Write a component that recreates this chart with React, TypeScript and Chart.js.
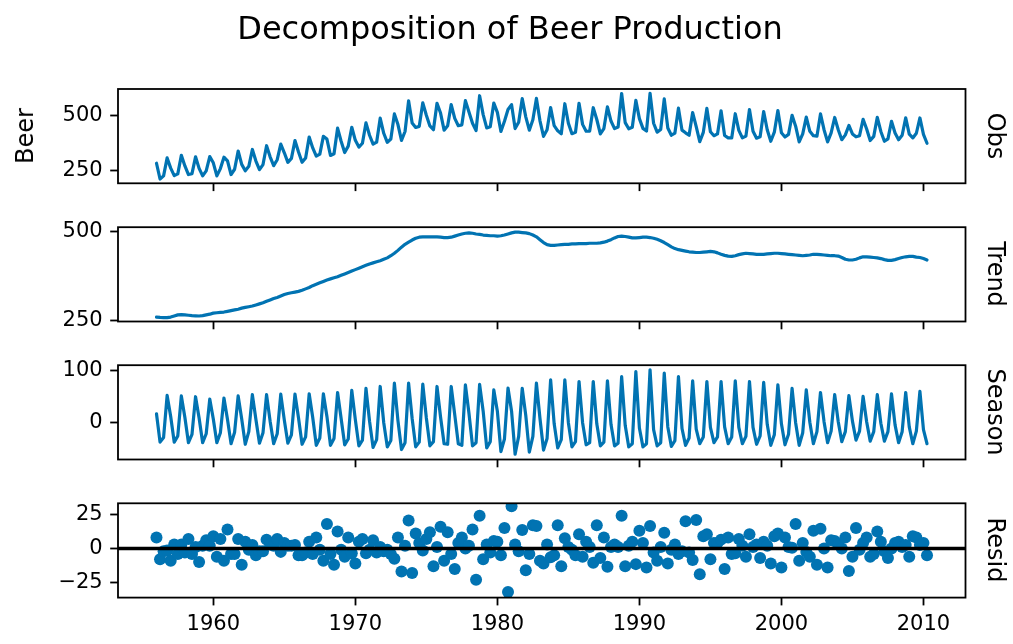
import React, { useEffect, useRef } from "react";
import { Chart, registerables } from "chart.js";
Chart.register(...registerables);

// Quarterly Australian beer production, 1956 Q1 .. 2010 Q2
const START_YEAR = 1956;
const OBS = [
  284,213,227,308, 262,228,236,320, 272,233,237,313, 261,227,250,314, 286,227,260,311,
  295,233,257,339, 279,250,270,346, 294,255,278,363, 313,273,300,370, 331,288,306,386,
  335,288,308,402, 353,316,325,405, 393,319,327,442, 383,332,361,446, 387,357,374,466,
  410,370,379,487, 419,378,393,506, 458,387,427,565, 465,445,450,556, 500,452,435,554,
  510,433,453,548, 486,453,457,566, 515,464,431,588, 503,443,448,555, 513,427,473,526,
  548,440,469,575, 493,433,480,576, 475,405,435,535, 453,430,417,552, 464,417,423,554,
  459,428,429,534, 481,416,440,538, 474,440,447,598, 467,439,446,567, 485,441,429,599,
  464,424,436,574, 443,410,420,532, 433,421,410,512, 449,381,423,531, 426,408,416,520,
  409,398,398,507, 432,398,406,526, 428,397,403,517, 435,383,424,521, 421,402,414,500,
  451,380,416,492, 428,408,406,506, 435,380,421,490, 435,390,412,454, 416,403,408,482,
  438,386,405,491, 427,383,394,473, 420,390,410,488, 415,398,419,488, 414,374,
];
const TREND = [
  259,258,257.5,257.5, 259,262,265,266, 265,264,263,262.5, 262,263,265,267, 270,271,272,273,
  275,277,279,281, 284,286,288,290, 293,296,299,303, 307,311,314,318, 322,325,327,329,
  331,334,338,342, 347,351,355,359, 363,366,369,372, 376,380,384,388, 392,396,400,404,
  408,411,414,417, 421,425,431,438, 446,455,463,469, 475,480,483,484, 484,484,484,484,
  483,482,482,483, 486,489,492,494, 495,494,492,491, 489,488,487,487, 486,487,489,492,
  495,497,497,496, 495,493,489,484, 476,468,462,460, 460,461,462,463, 463,464,464,465,
  465,465,466,466, 466,467,469,472, 476,481,485,486, 485,483,481,481, 482,483,483,482,
  480,477,473,468, 462,456,451,448, 446,444,442,441, 440,440,441,442, 443,442,439,435,
  432,430,429,431, 434,436,438,437, 436,435,435,435, 436,437,438,438, 437,436,435,434,
  433,432,431,432, 433,435,435,434, 433,432,431,431, 430,426,421,419, 419,421,425,428,
  428,427,426,425, 423,420,418,418, 420,423,426,428, 429,429,427,426, 423,419,
];
const SEASON = [
  17,-37,-28,52, 12,-37,-25,51, 10,-38,-22,49.5, 9,-38,-21,45, 7,-38,-19,47,
  6,-40,-18,51, 7,-41,-17,53.5, 6,-39,-19,53.5, 3,-40,-21,54.5, 5,-39,-23,54.5,
  9,-41,-27,55, 10,-43,-29,55, 12,-43,-30,57.5, 8,-42,-31,61.5, 6,-44,-33,65.5,
  3,-47,-32,69, 0,-46,-34,75.5, 4,-51,-38,75.5, 8,-46,-37,73.5, 9,-44,-36,69,
  11,-40,-41,69, 15,-40,-43,72, 18,-44,-38,73, 22,-48,-36,62.5, 22,-55,-31,66,
  22,-60,-26,65.5, 14,-56,-26,75.5, 8,-52,-30,81.5, -2,-48,-32,81.5, 0,-46,-36,78.5,
  0,-42,-38,78.5, -2,-44,-37,79.5, -3,-44,-39,88, -5,-46,-40,97.5, -10,-46,-40,100.5,
  -13,-44,-38,94.5, -8,-45,-34,88, -11,-43,-29,79.5, -12,-40,-27,78.5, -9,-38,-27,78.5,
  -8,-40,-27,79.5, -9,-40,-26,78.5, -9,-41,-25,77, -3,-43,-23,72, -2,-42,-22,65.5,
  0,-43,-19,62.5, 1,-40,-17,57.5, 2,-38,-16,53.5, 2,-36,-17,51.5, 3,-33,-16,50,
  2,-35,-17,53.5, -1,-35,-17,55, -4,-38,-17,57.5, -8,-40,-16,59.5, -13,-40,
];
const RESID = [
  8,-8,-2,-1.5, -9,3,-4,3, -3,7,-4,1, -10,2,6,2, 9,-6,7,-9,
  14,-4,-4,7, -12,5,-1,2.5, -5,-2,-2,6.5, 3,2,7,-2.5, 4,2,2,2.5,
  -5,-5,-3,5, -4,8,-1,-9, 18,-4,-12,12.5, -1,-6,8,-3.5, -11,5,7,-3.5,
  -1,6,-3,1, -2,-1,-4,-7.5, 8,-17,2,20.5, -18,11,4,-1.5, 7,12,-13,1,
  16,-9,12,-4, -15,4,8,0, 2,14,-23,24, -8,3,-3,5.5, 5,-5,15,-32,
  31,3,-2,13.5, -16,-4,17,16.5, -9,-11,3,-6.5, -5,17,-13,7.5, 1,-1,-5,10.5,
  -6,5,1,-10.5, 17,-7,8,-13.5, 1,3,1,24, -13,2,5,-11.5, 13,4,-14,16.5,
  -3,-9,1,11.5, -11,-1,3,-4, -2,20,-3,-8.5, 21,-19,9,10.5, -8,4,4,6.5,
  -15,8,-4,-3.5, 7,2,-6,10.5, 1,3,-7,5, 2,-11,9,11, -14,8,1,0.5,
  18,-9,4,-2.5, -6,13,-12,14.5, 0,-14,6,5.5, 3,0,8,-16.5, -6,15,-1,4,
  8,-6,-4,12.5, 5,-2,-7,0, 4,5,1,2.5, -6,9,8,2.5, 4,-5,
];

const X_TICKS = [1960, 1970, 1980, 1990, 2000, 2010];
const OBS_TICKS = [250, 500];
const TREND_TICKS = [250, 500];
const SEASON_TICKS = [0, 100];
const RESID_TICKS = [-25, 0, 25];

const TITLE = "Decomposition of Beer Production";
const Y_LABEL = "Beer";

const TIME = OBS.map((_, i) => START_YEAR + i / 4);

const COLOR = "#0173b2";
const FONT = '"DejaVu Sans", sans-serif';
const TICK_FONT = 21;
const LABEL_FONT = 24;
const TITLE_FONT = 32;
const W = 1013;
const H = 644;
const LEFT = 118;
const RIGHT = 965.5;
const X_MIN = 1953.29;
const X_MAX = 2012.96;
const PANEL_H = 94.3;
const PANEL_TOPS = [89, 227.2, 365.2, 503.3];

const PANELS = [
  { name: "Obs", values: OBS, kind: "line", yMin: 193.7, yMax: 618.3, ticks: OBS_TICKS },
  { name: "Trend", values: TREND, kind: "line", yMin: 246.5, yMax: 511, ticks: TREND_TICKS },
  { name: "Season", values: SEASON, kind: "line", yMin: -70, yMax: 109.5, ticks: SEASON_TICKS },
  { name: "Resid", values: RESID, kind: "scatter", yMin: -36.1, yMax: 33.2, ticks: RESID_TICKS },
];

const framePlugin = {
  id: "frame",
  afterDraw(chart: any) {
    const { ctx, chartArea: a } = chart;
    ctx.save();
    ctx.strokeStyle = "#000";
    ctx.lineWidth = 1.8;
    ctx.strokeRect(a.left, a.top, a.right - a.left, a.bottom - a.top);
    ctx.restore();
  },
};

const zeroLinePlugin = {
  id: "zeroLine",
  afterDatasetsDraw(chart: any, _args: any, opts: any) {
    if (!opts || !opts.enabled) return;
    const { ctx, chartArea: a } = chart;
    const y = chart.scales.y.getPixelForValue(0);
    ctx.save();
    ctx.strokeStyle = "#000";
    ctx.lineWidth = 3.3;
    ctx.beginPath();
    ctx.moveTo(a.left, y);
    ctx.lineTo(a.right, y);
    ctx.stroke();
    ctx.restore();
  },
};

function fmt(v: number) {
  return v < 0 ? "\u2212" + String(Math.abs(v)) : String(v);
}

export default function App() {
  const refs = useRef<(HTMLCanvasElement | null)[]>([]);

  useEffect(() => {
    const charts: Chart[] = [];
    PANELS.forEach((p, idx) => {
      const canvas = refs.current[idx];
      if (!canvas) return;
      const isBottom = idx === PANELS.length - 1;
      const xAxisH = isBottom ? 46 : 10;
      const top = PANEL_TOPS[idx];
      const bottomPad = H - (top + PANEL_H) - xAxisH;
      const points = p.values.map((v, i) => ({ x: TIME[i], y: v }));
      const dataset: any =
        p.kind === "line"
          ? {
              data: points,
              borderColor: COLOR,
              borderWidth: 3.2,
              pointRadius: 0,
              tension: 0,
              fill: false,
              borderJoinStyle: "round",
              borderCapStyle: "round",
            }
          : {
              data: points,
              backgroundColor: COLOR,
              borderWidth: 0,
              pointRadius: 6,
              pointHoverRadius: 6,
              showLine: false,
            };
      const chart = new Chart(canvas, {
        type: p.kind === "line" ? "line" : "scatter",
        data: { datasets: [dataset] },
        options: {
          animation: false,
          responsive: false,
          events: [],
          layout: { padding: { top, left: 0, right: W - RIGHT, bottom: bottomPad } },
          plugins: {
            legend: { display: false },
            tooltip: { enabled: false },
            title: { display: false },
            zeroLine: { enabled: isBottom },
          } as any,
          scales: {
            x: {
              type: "linear",
              min: X_MIN,
              max: X_MAX,
              afterBuildTicks: (s: any) => {
                s.ticks = X_TICKS.map((v) => ({ value: v }));
              },
              afterFit: (s: any) => {
                s.height = xAxisH;
              },
              ticks: {
                display: isBottom,
                autoSkip: false,
                maxRotation: 0,
                color: "#000",
                padding: 7,
                font: { family: FONT, size: TICK_FONT },
                callback: (v: any) => String(v),
              },
              grid: {
                display: true,
                drawOnChartArea: false,
                drawTicks: true,
                tickLength: 7.8,
                tickWidth: 1.8,
                tickColor: "#000",
              },
              border: { display: false },
            },
            y: {
              type: "linear",
              min: p.yMin,
              max: p.yMax,
              afterBuildTicks: (s: any) => {
                s.ticks = p.ticks.map((v) => ({ value: v }));
              },
              afterFit: (s: any) => {
                s.width = LEFT;
              },
              ticks: {
                autoSkip: false,
                color: "#000",
                padding: 7.5,
                font: { family: FONT, size: TICK_FONT },
                callback: (v: any) => fmt(Number(v)),
              },
              grid: {
                display: true,
                drawOnChartArea: false,
                drawTicks: true,
                tickLength: 7.8,
                tickWidth: 1.8,
                tickColor: "#000",
              },
              border: { display: false },
            },
          },
        } as any,
        plugins: [framePlugin, zeroLinePlugin],
      });
      charts.push(chart);
    });
    return () => charts.forEach((c) => c.destroy());
  }, []);

  const textBase: React.CSSProperties = {
    position: "absolute",
    fontFamily: FONT,
    color: "#000",
    whiteSpace: "nowrap",
    lineHeight: 1,
  };

  return (
    <div style={{ position: "absolute", left: 0, top: 0, width: W, height: H, background: "#fff", overflow: "hidden" }}>
      {PANELS.map((p, i) => (
        <canvas
          key={p.name}
          ref={(el) => {
            refs.current[i] = el;
          }}
          width={W}
          height={H}
          style={{ position: "absolute", left: 0, top: 0, width: W, height: H }}
        />
      ))}
      <div style={{ ...textBase, left: 510, top: 28, fontSize: TITLE_FONT, transform: "translate(-50%, -50%)" }}>{TITLE}</div>
      <div
        style={{
          ...textBase,
          left: 25,
          top: PANEL_TOPS[0] + PANEL_H / 2,
          fontSize: LABEL_FONT,
          transform: "translate(-50%, -50%) rotate(-90deg)",
        }}
      >
        {Y_LABEL}
      </div>
      {PANELS.map((p, i) => (
        <div
          key={"lab" + p.name}
          style={{
            ...textBase,
            left: 996,
            top: PANEL_TOPS[i] + PANEL_H / 2,
            fontSize: LABEL_FONT,
            transform: "translate(-50%, -50%) rotate(90deg)",
          }}
        >
          {p.name}
        </div>
      ))}
    </div>
  );
}
